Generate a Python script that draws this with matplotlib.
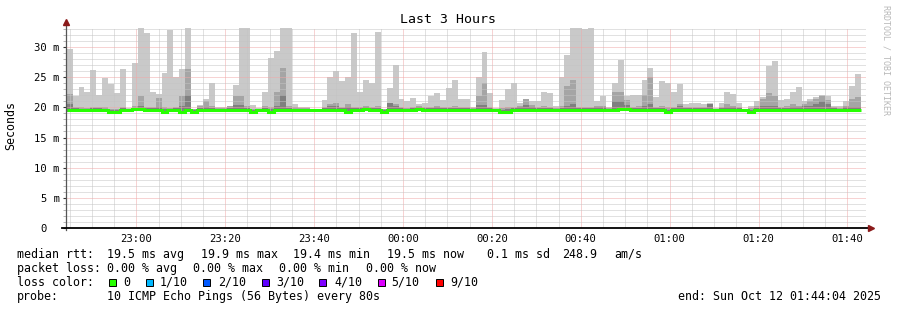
import numpy as np
import pandas as pd
import matplotlib
matplotlib.use('agg')
import matplotlib.pyplot as plt
import matplotlib.dates as mdates
from matplotlib.patches import Rectangle

# smoke per 80 s step (ms): max ping, 2nd level, 3rd level, lowest ping, median
ping_max = [29.7, 21.9, 23.4, 22.5, 26.2, 22.1, 24.9, 23.9, 22.4, 26.4,
            19.9, 27.3, 33.2, 32.3, 22.5, 22.2, 25.7, 32.8, 25.0, 26.4,
            33.2, 19.8, 20.4, 21.4, 24.0, 20.0, 20.0, 20.2, 23.7, 33.2,
            33.2, 20.4, 19.9, 22.5, 28.2, 29.3, 33.2, 33.2, 20.5, 20.0,
            20.0, 19.8, 19.8, 21.2, 25.0, 26.0, 24.3, 25.1, 32.3, 22.5,
            24.5, 24.1, 32.5, 19.8, 23.2, 27.0, 21.3, 21.0, 21.5, 20.5,
            20.7, 21.9, 22.4, 21.2, 23.2, 24.5, 21.4, 21.4, 20.0, 25.0,
            29.2, 22.4, 19.9, 21.2, 23.0, 24.0, 20.8, 21.4, 21.0, 21.0,
            22.5, 22.4, 20.3, 25.1, 28.7, 33.2, 33.2, 33.0, 33.2, 21.0,
            21.9, 20.1, 24.1, 27.8, 21.9, 22.0, 22.0, 24.5, 26.5, 21.7,
            24.3, 24.0, 22.5, 23.9, 20.5, 20.7, 20.7, 20.5, 20.8, 19.9,
            20.8, 22.5, 22.2, 20.7, 19.7, 20.3, 21.0, 21.7, 26.9, 27.7,
            21.2, 21.3, 22.5, 23.4, 21.0, 21.4, 21.7, 22.1, 21.9, 20.3,
            20.2, 21.1, 23.6, 25.6]

ping_mid = [22.2, 20.1, 20.0, 19.9, 20.1, 20.1, 20.0, 19.8, 19.8, 20.0,
            19.8, 20.2, 21.9, 20.0, 20.1, 21.6, 20.0, 19.9, 20.1, 21.9,
            26.4, 19.8, 20.2, 21.0, 20.3, 19.9, 19.9, 20.2, 21.9, 21.8,
            20.3, 19.8, 19.8, 20.2, 20.0, 22.6, 26.5, 20.2, 20.0, 19.9,
            19.9, 19.8, 19.8, 20.0, 20.5, 20.8, 20.1, 20.5, 20.1, 20.0,
            20.2, 20.1, 20.2, 19.8, 20.7, 20.5, 20.0, 19.9, 20.0, 20.2,
            20.0, 20.1, 20.3, 20.0, 20.1, 20.2, 20.0, 20.0, 19.9, 21.9,
            24.0, 20.1, 19.8, 19.9, 20.1, 20.0, 20.3, 21.4, 20.4, 20.0,
            20.2, 20.1, 19.9, 20.2, 23.6, 24.5, 20.0, 20.0, 20.0, 20.3,
            20.3, 19.9, 22.5, 22.5, 21.2, 20.1, 20.2, 22.0, 25.0, 20.1,
            20.2, 20.0, 20.0, 20.5, 20.0, 20.0, 20.1, 20.1, 20.5, 19.8,
            20.1, 20.5, 20.3, 20.0, 19.7, 19.9, 20.2, 21.3, 22.4, 21.9,
            20.1, 20.2, 20.5, 20.3, 20.6, 21.1, 21.4, 21.9, 21.2, 20.0,
            19.9, 20.3, 21.4, 21.7]

ping_dark = [20.5, 19.85, 19.8, 19.8, 19.85, 19.85, 19.8, 19.6, 19.6, 19.85,
             19.7, 19.9, 20.2, 19.85, 19.85, 20.0, 19.7, 19.7, 19.85, 20.3,
             22.0, 19.6, 19.85, 20.1, 19.9, 19.8, 19.8, 19.85, 20.4, 20.4,
             19.9, 19.6, 19.7, 19.9, 19.7, 20.2, 22.0, 19.9, 19.8, 19.8,
             19.8, 19.7, 19.7, 19.85, 20.2, 20.3, 19.85, 20.0, 19.85, 19.85,
             20.0, 19.85, 19.9, 19.6, 20.7, 20.2, 19.85, 19.8, 19.85, 20.0,
             19.85, 19.85, 20.0, 19.85, 19.85, 19.9, 19.85, 19.85, 19.8, 20.4,
             20.4, 19.85, 19.7, 19.6, 19.7, 19.85, 20.0, 20.4, 20.1, 19.85,
             19.9, 19.85, 19.8, 19.9, 20.3, 20.5, 19.85, 19.85, 19.85, 20.0,
             20.0, 19.8, 21.0, 21.0, 20.4, 19.9, 19.9, 20.2, 20.6, 19.85,
             19.9, 19.6, 19.85, 20.3, 19.85, 19.85, 19.85, 19.9, 20.5, 19.7,
             19.85, 20.1, 20.0, 19.85, 19.6, 19.6, 19.9, 20.2, 20.3, 20.3,
             19.85, 19.9, 20.1, 20.0, 20.2, 20.2, 20.5, 21.0, 20.5, 19.85,
             19.8, 20.0, 20.0, 20.0]

ping_min = [19.25, 19.25, 19.2, 19.2, 19.25, 19.25, 19.25, 19.05, 19.05, 19.25,
            19.2, 19.35, 19.5, 19.25, 19.25, 19.25, 19.05, 19.25, 19.25, 19.05,
            19.25, 19.05, 19.25, 19.25, 19.25, 19.25, 19.25, 19.2, 19.25, 19.3,
            19.3, 19.05, 19.25, 19.25, 19.05, 19.25, 19.25, 19.25, 19.2, 19.2,
            19.2, 19.25, 19.25, 19.25, 19.25, 19.25, 19.25, 19.05, 19.25, 19.25,
            19.5, 19.25, 19.25, 19.05, 19.25, 19.3, 19.25, 19.25, 19.25, 19.5,
            19.25, 19.25, 19.25, 19.25, 19.25, 19.25, 19.25, 19.25, 19.25, 19.25,
            19.25, 19.25, 19.25, 19.05, 19.05, 19.25, 19.25, 19.25, 19.25, 19.25,
            19.25, 19.25, 19.25, 19.25, 19.25, 19.25, 19.25, 19.25, 19.25, 19.25,
            19.25, 19.25, 19.25, 19.5, 19.5, 19.3, 19.25, 19.3, 19.3, 19.25,
            19.25, 19.05, 19.25, 19.25, 19.25, 19.25, 19.25, 19.25, 19.25, 19.25,
            19.25, 19.25, 19.2, 19.25, 19.2, 19.05, 19.25, 19.25, 19.25, 19.25,
            19.25, 19.25, 19.25, 19.25, 19.25, 19.3, 19.3, 19.3, 19.25, 19.25,
            19.25, 19.25, 19.25, 19.25]

median = [19.55, 19.55, 19.5, 19.5, 19.55, 19.55, 19.55, 19.3, 19.3, 19.55,
          19.5, 19.65, 19.8, 19.55, 19.55, 19.55, 19.3, 19.55, 19.55, 19.3,
          19.55, 19.3, 19.55, 19.55, 19.55, 19.55, 19.55, 19.5, 19.55, 19.6,
          19.6, 19.3, 19.55, 19.55, 19.3, 19.55, 19.55, 19.55, 19.5, 19.5,
          19.5, 19.55, 19.55, 19.55, 19.55, 19.55, 19.55, 19.3, 19.55, 19.55,
          19.8, 19.55, 19.55, 19.3, 19.55, 19.6, 19.55, 19.55, 19.55, 19.8,
          19.55, 19.55, 19.55, 19.55, 19.55, 19.55, 19.55, 19.55, 19.55, 19.55,
          19.55, 19.55, 19.55, 19.3, 19.3, 19.55, 19.55, 19.55, 19.55, 19.55,
          19.55, 19.55, 19.55, 19.55, 19.55, 19.55, 19.55, 19.55, 19.55, 19.55,
          19.55, 19.55, 19.55, 19.8, 19.8, 19.6, 19.55, 19.6, 19.6, 19.55,
          19.55, 19.3, 19.55, 19.55, 19.55, 19.55, 19.55, 19.55, 19.55, 19.55,
          19.55, 19.55, 19.5, 19.55, 19.5, 19.3, 19.55, 19.55, 19.55, 19.55,
          19.55, 19.55, 19.55, 19.55, 19.55, 19.6, 19.6, 19.6, 19.55, 19.55,
          19.55, 19.55, 19.55, 19.55]

start = pd.Timestamp('2025-10-11 22:44:04')
end = pd.Timestamp('2025-10-12 01:44:04')
first_step = pd.Timestamp('2025-10-11 22:44:20')

y_ticks = [0, 5, 10, 15, 20, 25, 30]
y_labels = ['0  ', '5 m', '10 m', '15 m', '20 m', '25 m', '30 m']

legend_lines = [
    [('median rtt:', 16.7), ('19.5 ms avg', 107.3), ('19.9 ms max', 201),
     ('19.4 ms min', 293.3), ('19.5 ms now', 386.7), ('0.1 ms sd', 486.7),
     ('248.9', 562), ('am/s', 614)],
    [('packet loss:', 16.7), ('0.00 % avg', 107.3), ('0.00 % max', 193.3),
     ('0.00 % min', 279.3), ('0.00 % now', 365.7)],
    [('loss color:', 16.7)],
    [('probe:', 16.7), ('10 ICMP Echo Pings (56 Bytes) every 80s', 107.3),
     ('end: Sun Oct 12 01:44:04 2025', 678.3)],
]
legend_y = [254.3, 268.3, 282.3, 296.7]
loss_labels = ['0', '1/10', '2/10', '3/10', '4/10', '5/10', '9/10']
loss_colors = ['#26ff00', '#00b8ff', '#0059ff', '#5e00ff', '#7e00ff', '#dd00ff', '#ff0000']
loss_box_x = [108.7, 145.7, 203.3, 261.7, 319.3, 377.7, 435.7]
loss_text_x = [123.3, 160, 218.3, 276, 334.3, 391.7, 450]

W, H = 897, 310
MONO = 'DejaVu Sans Mono'

fig = plt.figure(figsize=(W / 100, H / 100), dpi=100)
fig.patch.set_facecolor('white')
ax = fig.add_axes([65.5 / W, 82 / H, 800 / W, 200 / H])

n = len(ping_max)
edges = mdates.date2num(pd.date_range(first_step, periods=n + 1, freq='80s'))

# smoke layers, light to dark
ax.stairs(ping_max, edges, baseline=ping_min, fill=True, color='#c9c9c9', lw=0, zorder=1)
ax.stairs(ping_mid, edges, baseline=ping_min, fill=True, color='#a5a5a5', lw=0, zorder=1.1)
ax.stairs(ping_dark, edges, baseline=ping_min, fill=True, color='#7f7f7f', lw=0, zorder=1.2)
# median line
ax.stairs(median, edges, baseline=None, color='#26ff00', lw=2.2, zorder=3)

ax.set_xlim(mdates.date2num(start), mdates.date2num(end))
ax.set_ylim(0, 33.15)

ax.xaxis.set_major_locator(mdates.MinuteLocator(byminute=[0, 20, 40]))
ax.xaxis.set_minor_locator(mdates.MinuteLocator(byminute=range(0, 60, 5)))
ax.xaxis.set_major_formatter(mdates.DateFormatter('%H:%M'))
ax.set_yticks(y_ticks)
ax.set_yticklabels(y_labels)
ax.set_yticks(np.arange(0, 34, 1), minor=True)

ax.set_axisbelow(False)
ax.grid(which='minor', color='#c4c4c4', ls=(0, (1, 1)), lw=0.72)
ax.grid(which='major', color='#f0a8a8', ls=(0, (1, 1)), lw=0.72)

ax.tick_params(axis='x', which='both', length=0, pad=4.5, labelsize=7.6)
ax.tick_params(axis='y', which='major', length=2.5, width=0.8, color='#333333', pad=1.5, labelsize=7.6)
ax.tick_params(axis='y', which='minor', length=2, width=0.6, color='#aaaaaa')
for lab in ax.get_xticklabels() + ax.get_yticklabels():
    lab.set_family(MONO)

for s in ax.spines.values():
    s.set_visible(False)

# axis lines with arrows
ax.plot([0, 0], [-0.01, 1.02], transform=ax.transAxes, color='#555555', lw=0.9, clip_on=False, zorder=4)
ax.plot([-0.005, 1.004], [0, 0], transform=ax.transAxes, color='black', lw=1.3, clip_on=False, zorder=4)
ax.plot([0], [1.03], marker='^', ms=4.5, color='#8b1a1a', transform=ax.transAxes, clip_on=False, zorder=5)
ax.plot([1.007], [0], marker='>', ms=4.5, color='#8b1a1a', transform=ax.transAxes, clip_on=False, zorder=5)

fig.text(448 / W, 1 - 19.5 / H, 'Last 3 Hours', family=MONO, fontsize=9.5, ha='center', va='center')
fig.text(10.5 / W, 1 - 126 / H, 'Seconds', family=MONO, fontsize=8.4, rotation=90, ha='center', va='center')
fig.text(886 / W, 1 - 5 / H, 'RRDTOOL / TOBI OETIKER', family=MONO, fontsize=6, color='#b8b8b8',
         rotation=-90, ha='center', va='top')

for line, yc in zip(legend_lines, legend_y):
    for txt, xp in line:
        fig.text(xp / W, 1 - yc / H, txt, family=MONO, fontsize=8.4, ha='left', va='center')

for lab, col, bx, tx in zip(loss_labels, loss_colors, loss_box_x, loss_text_x):
    fig.add_artist(Rectangle((bx / W, 1 - 285.7 / H), 7 / W, 7 / H, transform=fig.transFigure,
                             facecolor=col, edgecolor='black', lw=0.7))
    fig.text(tx / W, 1 - 282.3 / H, lab, family=MONO, fontsize=8.4, ha='left', va='center')

fig.savefig('out.png', dpi=100, facecolor='white')
